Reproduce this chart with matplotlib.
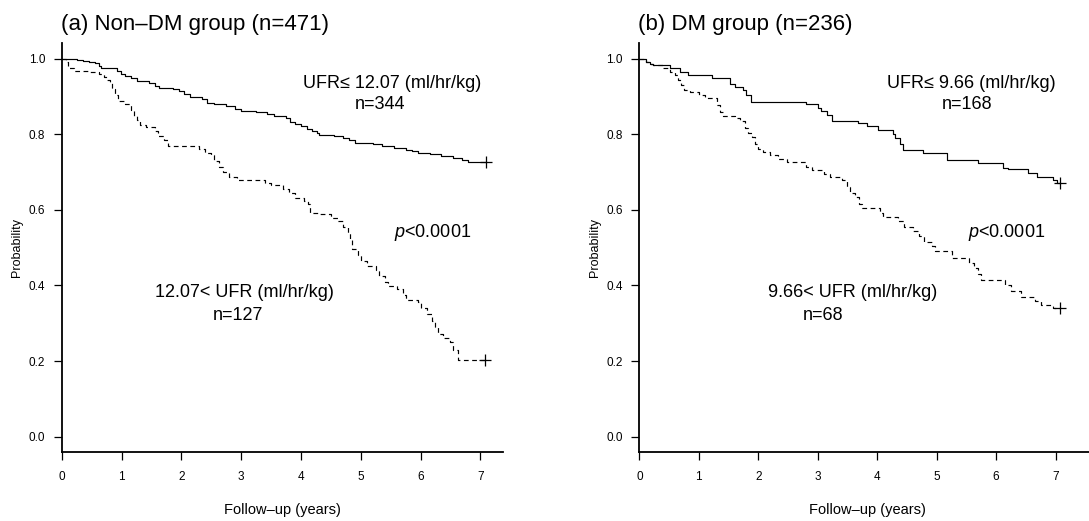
import matplotlib
matplotlib.use("Agg")
import matplotlib.pyplot as plt
import numpy as np

plt.rcParams['font.family'] = ['Liberation Sans', 'DejaVu Sans']
plt.rcParams['mathtext.fontset'] = 'custom'
plt.rcParams['mathtext.it'] = 'Liberation Sans:italic'
plt.rcParams['mathtext.rm'] = 'Liberation Sans'

# (a) Non-DM group, UFR <= 12.07 (solid)
a_low_t = [0.00, 0.25, 0.35, 0.45, 0.55, 0.62, 0.66, 0.92, 0.98, 1.05, 1.15, 1.25, 1.45,
           1.55, 1.62, 1.85, 1.95, 2.05, 2.15, 2.35, 2.42, 2.55, 2.75, 2.90, 3.00, 3.25,
           3.43, 3.55, 3.75, 3.82, 3.90, 4.00, 4.10, 4.18, 4.26, 4.30, 4.55, 4.70, 4.80,
           4.90, 5.20, 5.35, 5.55, 5.75, 5.85, 5.95, 6.15, 6.35, 6.55, 6.70, 6.80]
a_low_s = [1.000, 0.997, 0.994, 0.991, 0.988, 0.982, 0.975, 0.968, 0.961, 0.955, 0.948,
           0.942, 0.936, 0.929, 0.923, 0.920, 0.914, 0.907, 0.900, 0.895, 0.884, 0.880,
           0.876, 0.868, 0.862, 0.860, 0.855, 0.849, 0.843, 0.834, 0.828, 0.821, 0.815,
           0.810, 0.803, 0.798, 0.796, 0.790, 0.785, 0.778, 0.774, 0.769, 0.764, 0.760,
           0.756, 0.750, 0.747, 0.742, 0.738, 0.732, 0.727]
a_low_end = 7.10

# (a) Non-DM group, UFR > 12.07 (dashed)
a_high_t = [0.00, 0.06, 0.10, 0.20, 0.45, 0.62, 0.70, 0.75, 0.80, 0.84, 0.88, 0.93, 1.05,
            1.15, 1.20, 1.25, 1.30, 1.40, 1.55, 1.60, 1.70, 1.78, 2.30, 2.40, 2.50, 2.55,
            2.62, 2.70, 2.80, 2.93, 3.40, 3.50, 3.70, 3.80, 3.90, 4.05, 4.12, 4.15, 4.30,
            4.50, 4.62, 4.70, 4.78, 4.82, 4.85, 4.95, 5.00, 5.10, 5.25, 5.30, 5.40, 5.45,
            5.60, 5.70, 5.75, 5.95, 6.00, 6.10, 6.20, 6.25, 6.30, 6.38, 6.50, 6.55, 6.62]
a_high_s = [1.000, 0.992, 0.976, 0.968, 0.964, 0.960, 0.952, 0.944, 0.936, 0.920, 0.905,
            0.888, 0.880, 0.865, 0.850, 0.838, 0.825, 0.820, 0.810, 0.795, 0.785, 0.770,
            0.762, 0.750, 0.745, 0.730, 0.714, 0.700, 0.688, 0.678, 0.672, 0.665, 0.655,
            0.645, 0.632, 0.625, 0.615, 0.592, 0.588, 0.578, 0.570, 0.555, 0.540, 0.520,
            0.497, 0.480, 0.465, 0.452, 0.440, 0.425, 0.408, 0.398, 0.390, 0.375, 0.362,
            0.355, 0.340, 0.325, 0.305, 0.290, 0.272, 0.260, 0.250, 0.230, 0.203]
a_high_end = 7.08

# (b) DM group, UFR <= 9.66 (solid)
b_low_t = [0.00, 0.12, 0.18, 0.23, 0.52, 0.68, 0.82, 1.23, 1.53, 1.60, 1.75, 1.80, 1.88,
           2.80, 3.00, 3.05, 3.15, 3.24, 3.68, 3.82, 4.01, 4.26, 4.30, 4.38, 4.44, 4.77,
           5.17, 5.69, 6.12, 6.20, 6.53, 6.68, 6.95, 7.02]
b_low_s = [1.000, 0.992, 0.987, 0.984, 0.975, 0.966, 0.958, 0.949, 0.933, 0.926, 0.918,
           0.905, 0.887, 0.880, 0.870, 0.861, 0.852, 0.836, 0.830, 0.821, 0.812, 0.800,
           0.790, 0.775, 0.759, 0.750, 0.733, 0.724, 0.712, 0.708, 0.697, 0.688, 0.680,
           0.672]
b_low_end = 7.07

# (b) DM group, UFR > 9.66 (dashed)
b_high_t = [0.00, 0.12, 0.18, 0.23, 0.40, 0.52, 0.60, 0.65, 0.70, 0.75, 0.85, 1.00, 1.10,
            1.30, 1.35, 1.40, 1.60, 1.70, 1.78, 1.83, 1.90, 1.95, 2.00, 2.08, 2.20, 2.33,
            2.48, 2.80, 2.90, 3.10, 3.20, 3.40, 3.50, 3.55, 3.62, 3.70, 3.75, 4.05, 4.10,
            4.35, 4.45, 4.60, 4.70, 4.78, 4.92, 4.97, 5.25, 5.55, 5.62, 5.70, 5.75, 6.15,
            6.25, 6.42, 6.65, 6.75, 6.95]
b_high_s = [1.000, 0.992, 0.987, 0.984, 0.975, 0.966, 0.957, 0.945, 0.930, 0.918, 0.912,
            0.905, 0.896, 0.878, 0.860, 0.850, 0.843, 0.836, 0.818, 0.805, 0.792, 0.775,
            0.762, 0.754, 0.745, 0.735, 0.726, 0.715, 0.705, 0.695, 0.688, 0.680, 0.660,
            0.645, 0.635, 0.615, 0.605, 0.592, 0.582, 0.570, 0.555, 0.545, 0.530, 0.515,
            0.505, 0.490, 0.472, 0.460, 0.445, 0.430, 0.415, 0.400, 0.385, 0.370, 0.358,
            0.348, 0.340]
b_high_end = 7.07

yticks = [0.0, 0.2, 0.4, 0.6, 0.8, 1.0]
xticks = [0, 1, 2, 3, 4, 5, 6, 7]


def km(ax, t, s, end, dashed):
    tt = list(t) + [end]
    ss = list(s) + [s[-1]]
    ls = (0, (4, 3)) if dashed else '-'
    ax.step(tt, ss, where='post', color='black', lw=0.85, linestyle=ls)
    ax.plot([end], [s[-1]], marker='+', color='black', ms=9, mew=0.9)


def style(ax, title, xmax):
    ax.set_xlim(0, xmax)
    ax.set_ylim(-0.04, 1.042)
    for side in ['top', 'right']:
        ax.spines[side].set_visible(False)
    for side in ['left', 'bottom']:
        ax.spines[side].set_linewidth(1.3)
    ax.set_xticks(xticks)
    ax.set_yticks(yticks)
    ax.set_yticklabels(['%.1f' % v for v in yticks])
    ax.tick_params(axis='y', direction='out', length=6, width=0.9, pad=6, labelsize=8.5)
    ax.tick_params(axis='x', direction='out', length=6, width=0.9, pad=8, labelsize=8.5)
    ax.set_xlabel('Follow\u2013up (years)', fontsize=10.5, labelpad=14)
    ax.set_ylabel('Probability', fontsize=9, labelpad=4)
    ax.text(-0.003, 1.045, title, transform=ax.transAxes, fontsize=16,
            ha='left', va='center')


fig = plt.figure(figsize=(10.89, 5.21), dpi=100)

ax1 = fig.add_axes([0.0569, 0.1330, 0.4050, 0.7845])
km(ax1, a_low_t, a_low_s, a_low_end, False)
km(ax1, a_high_t, a_high_s, a_high_end, True)
style(ax1, '(a) Non\u2013DM group (n=471)', 7.38)
ax1.text(5.52, 0.936, 'UFR\u2264 12.07 (ml/hr/kg)', fontsize=13, ha='center', va='center')
ax1.text(5.32, 0.878, 'n=344', fontsize=13, ha='center', va='center')
ax1.text(6.2, 0.539, r'$p$<0.0001', fontsize=13, ha='center', va='center')
ax1.text(3.05, 0.381, '12.07< UFR (ml/hr/kg)', fontsize=13, ha='center', va='center')
ax1.text(2.95, 0.320, 'n=127', fontsize=13, ha='center', va='center')

ax2 = fig.add_axes([0.5871, 0.1330, 0.4194, 0.7845])
km(ax2, b_low_t, b_low_s, b_low_end, False)
km(ax2, b_high_t, b_high_s, b_high_end, True)
style(ax2, '(b) DM group (n=236)', 7.68)
ax2.text(5.59, 0.936, 'UFR\u2264 9.66 (ml/hr/kg)', fontsize=13, ha='center', va='center')
ax2.text(5.51, 0.878, 'n=168', fontsize=13, ha='center', va='center')
ax2.text(6.17, 0.539, r'$p$<0.0001', fontsize=13, ha='center', va='center')
ax2.text(3.58, 0.381, '9.66< UFR (ml/hr/kg)', fontsize=13, ha='center', va='center')
ax2.text(3.09, 0.320, 'n=68', fontsize=13, ha='center', va='center')

fig.savefig('out.png', dpi=100)
